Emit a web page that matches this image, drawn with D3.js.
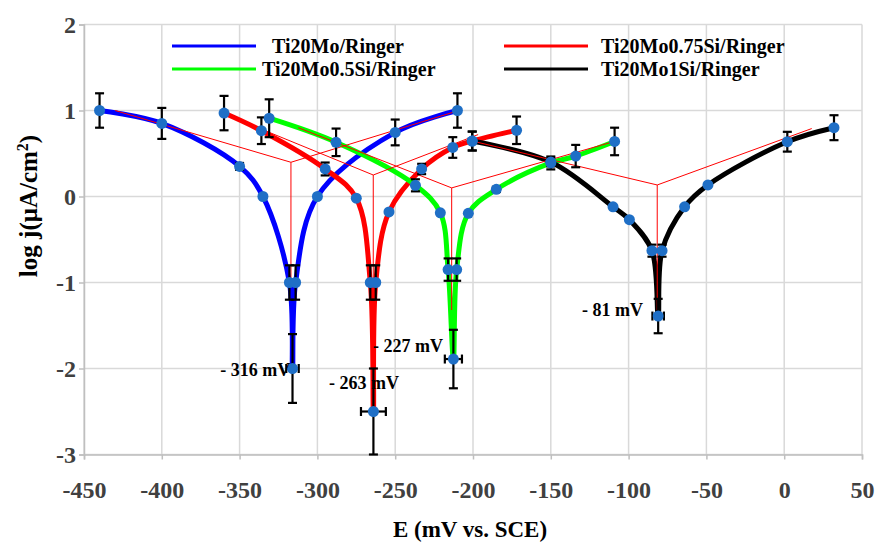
<!DOCTYPE html>
<html>
<head>
<meta charset="utf-8">
<script src="https://cdn.jsdelivr.net/npm/d3@7"></script>
<style>
  body { margin: 0; background: #fff; }
  text { font-family: "Liberation Serif", "Times New Roman", serif; font-weight: bold; }
</style>
</head>
<body>
<svg width="876" height="545"></svg>
<script>
// tick values
const xTicks = [-450, -400, -350, -300, -250, -200, -150, -100, -50, 0, 50];
const yTicks = [-3, -2, -1, 0, 1, 2];

// series names / colours
const names = ["Ti20Mo/Ringer", "Ti20Mo0.75Si/Ringer", "Ti20Mo0.5Si/Ringer", "Ti20Mo1Si/Ringer"];
const colors = ["#0000ff", "#ff0000", "#00ff00", "#000000"];

// Ti20Mo
const moE    = [-440, -400, -350, -335, -318, -316, -314, -300, -250, -210];
const moJ    = [1.0, 0.85, 0.35, 0.0, -1.0, -2.0, -1.0, 0.0, 0.745, 1.0];
const moErrJ = [0.2, 0.18, 0.04, 0, 0.2, 0.4, 0.2, 0, 0.15, 0.2];
const moErrE = [0, 0, 0, 0, 0, 4, 0, 0, 0, 0];

// Ti20Mo0.75Si
const si75E    = [-360, -336, -295, -275, -266, -264, -262.5, -254, -233, -213, -200.5, -172];
const si75J    = [0.97, 0.765, 0.32, -0.02, -1.0, -2.5, -1.0, -0.18, 0.32, 0.57, 0.645, 0.77];
const si75ErrJ = [0.2, 0.155, 0.075, 0, 0.2, 0.5, 0.2, 0, 0.06, 0.12, 0.11, 0.16];
const si75ErrE = [0, 0, 0, 0, 0, 8, 0, 0, 0, 0, 0, 0];

// Ti20Mo0.5Si
const si5E    = [-331, -288, -237, -221, -216, -212.6, -210.5, -203, -185, -150, -134, -109];
const si5J    = [0.91, 0.63, 0.13, -0.19, -0.85, -1.89, -0.85, -0.195, 0.083, 0.39, 0.47, 0.64];
const si5ErrJ = [0.22, 0.16, 0.07, 0, 0.13, 0.34, 0.13, 0, 0.03, 0.075, 0.13, 0.16];
const si5ErrE = [0, 0, 0, 0, 0, 5.5, 0, 0, 0, 0, 0, 0];

// Ti20Mo1Si
const si1E    = [-200.5, -150, -110, -99.5, -85, -81, -78.5, -64, -49, 2, 32];
const si1J    = [0.645, 0.40, -0.12, -0.27, -0.63, -1.39, -0.63, -0.12, 0.134, 0.637, 0.80];
const si1ErrJ = [0.11, 0.05, 0, 0, 0.07, 0.2, 0.07, 0, 0, 0.115, 0.145];
const si1ErrE = [0, 0, 0, 0, 0, 3.7, 0, 0, 0, 0, 0];

// Tafel extrapolation: [start, corrosion point, end] and foot of the vertical
const tafelMo   = [[-430, 1.0], [-317, 0.398], [-211.6, 0.986]];
const tafelSi75 = [[-345, 0.85], [-264.1, 0.25], [-196.7, 0.72]];
const tafelSi5  = [[-312.3, 0.80], [-213.7, 0.10], [-109.8, 0.637]];
const tafelSi1  = [[-200.5, 0.645], [-81.6, 0.134], [17.7, 0.79]];
const tafelFoot = [-1.0, -1.0, -1.32, -1.32];

// corrosion potential labels
const ecorrText = ["- 316 mV", "- 263 mV", "- 227 mV", "- 81 mV"];
const ecorrPos  = [[-317.5, -2.09], [-292.5, -2.24], [-264.3, -1.81], [-90.7, -1.39]];
const ecorrEnd  = [true, false, false, true];

const svg = d3.select("svg");
const x = d3.scaleLinear().domain([-450, 50]).range([84, 862]);
const y = d3.scaleLinear().domain([-3, 2]).range([454.5, 24.5]);

// grid
svg.append("g").selectAll("line").data(xTicks).join("line")
    .attr("x1", d => x(d)).attr("x2", d => x(d))
    .attr("y1", y(2)).attr("y2", y(-3))
    .attr("stroke", "#d9d9d9").attr("stroke-width", 1.5);
svg.append("g").selectAll("line").data(yTicks).join("line")
    .attr("x1", x(-450)).attr("x2", x(50))
    .attr("y1", d => y(d)).attr("y2", d => y(d))
    .attr("stroke", "#d9d9d9").attr("stroke-width", 1.5);

// axes
const xAxis = svg.append("g").attr("transform", `translate(0,${y(-3)})`)
    .call(d3.axisBottom(x).tickValues(xTicks).tickSize(5).tickPadding(21).tickFormat(d => String(d)));
const yAxis = svg.append("g").attr("transform", `translate(${x(-450)},0)`)
    .call(d3.axisLeft(y).tickValues(yTicks).tickSize(5).tickPadding(3).tickFormat(d => String(d)));
[xAxis, yAxis].forEach(a => {
    a.attr("font-family", null);
    a.select(".domain").attr("stroke", "#bfbfbf").attr("stroke-width", 1.5);
    a.selectAll(".tick line").attr("stroke", "#bfbfbf").attr("stroke-width", 1.5);
    a.selectAll(".tick text").attr("fill", "#404040").style("font-size", "24px")
        .style("font-family", "'Liberation Serif', serif").style("font-weight", "bold");
});

svg.append("text").attr("x", 470).attr("y", 537).attr("text-anchor", "middle")
    .style("font-size", "23px").text("E (mV vs. SCE)");
const yt = svg.append("text").attr("transform", "translate(37,206) rotate(-90)")
    .attr("text-anchor", "middle").style("font-size", "25px");
yt.append("tspan").text("log j(\u03bcA/cm");
yt.append("tspan").attr("dy", -9).style("font-size", "16px").text("2");
yt.append("tspan").attr("dy", 9).text(")");

// build series
const series = [
    [moE, moJ, moErrJ, moErrE],
    [si75E, si75J, si75ErrJ, si75ErrE],
    [si5E, si5J, si5ErrJ, si5ErrE],
    [si1E, si1J, si1ErrJ, si1ErrE]
].map(([e, j, ej, ee], i) => ({
    color: colors[i],
    pts: e.map((v, k) => ({ e: v, j: j[k], ej: ej[k], ee: ee[k] }))
}));

const line = d3.line().x(d => x(d.e)).y(d => y(d.j)).curve(d3.curveCatmullRom.alpha(0.5));
svg.append("g").selectAll("path").data(series).join("path")
    .attr("d", d => line(d.pts))
    .attr("fill", "none").attr("stroke", d => d.color)
    .attr("stroke-width", 5).attr("stroke-linejoin", "round");

// Tafel lines
const tafels = [tafelMo, tafelSi75, tafelSi5, tafelSi1];
const tg = svg.append("g").attr("stroke", "#ff0000").attr("stroke-width", 1).attr("fill", "none");
tafels.forEach((t, i) => {
    tg.append("path").attr("d", d3.line().x(d => x(d[0])).y(d => y(d[1]))(t));
    tg.append("line").attr("x1", x(t[1][0])).attr("x2", x(t[1][0]))
        .attr("y1", y(t[1][1])).attr("y2", y(tafelFoot[i]));
});

// error bars
const allPts = series.flatMap(s => s.pts);
const eg = svg.append("g").attr("stroke", "#000").attr("stroke-width", 2.2);
allPts.filter(p => p.ej > 0).forEach(p => {
    const cx = x(p.e);
    eg.append("line").attr("x1", cx).attr("x2", cx).attr("y1", y(p.j - p.ej)).attr("y2", y(p.j + p.ej));
    [p.j - p.ej, p.j + p.ej].forEach(v => eg.append("line")
        .attr("x1", cx - 4.5).attr("x2", cx + 4.5).attr("y1", y(v)).attr("y2", y(v)));
});
allPts.filter(p => p.ee > 0).forEach(p => {
    const cy = y(p.j);
    eg.append("line").attr("x1", x(p.e - p.ee)).attr("x2", x(p.e + p.ee)).attr("y1", cy).attr("y2", cy);
    [p.e - p.ee, p.e + p.ee].forEach(v => eg.append("line")
        .attr("x1", x(v)).attr("x2", x(v)).attr("y1", cy - 4.5).attr("y2", cy + 4.5));
});

// markers
svg.append("g").selectAll("circle").data(allPts).join("circle")
    .attr("cx", d => x(d.e)).attr("cy", d => y(d.j)).attr("r", 5.5)
    .attr("fill", "#1f6fc6");

// Ecorr labels
svg.append("g").selectAll("text").data(ecorrText).join("text")
    .attr("x", (d, i) => x(ecorrPos[i][0])).attr("y", (d, i) => y(ecorrPos[i][1]))
    .attr("text-anchor", (d, i) => ecorrEnd[i] ? "end" : "start")
    .style("font-size", "18px").attr("fill", "#000").text(d => d);

// legend
const legendX = [172, 504];
const legendTx = [272, 601];
const lg = svg.append("g");
names.forEach((n, i) => {
    const col = i % 2, row = Math.floor(i / 2);
    const ly = 46 + row * 23;
    lg.append("line").attr("x1", legendX[col]).attr("x2", legendX[col] + 84)
        .attr("y1", ly).attr("y2", ly).attr("stroke", colors[i]).attr("stroke-width", 3);
    lg.append("text").attr("x", i === 2 ? 262 : legendTx[col]).attr("y", ly + 7)
        .style("font-size", "20px").text(n);
});
</script>
</body>
</html>
